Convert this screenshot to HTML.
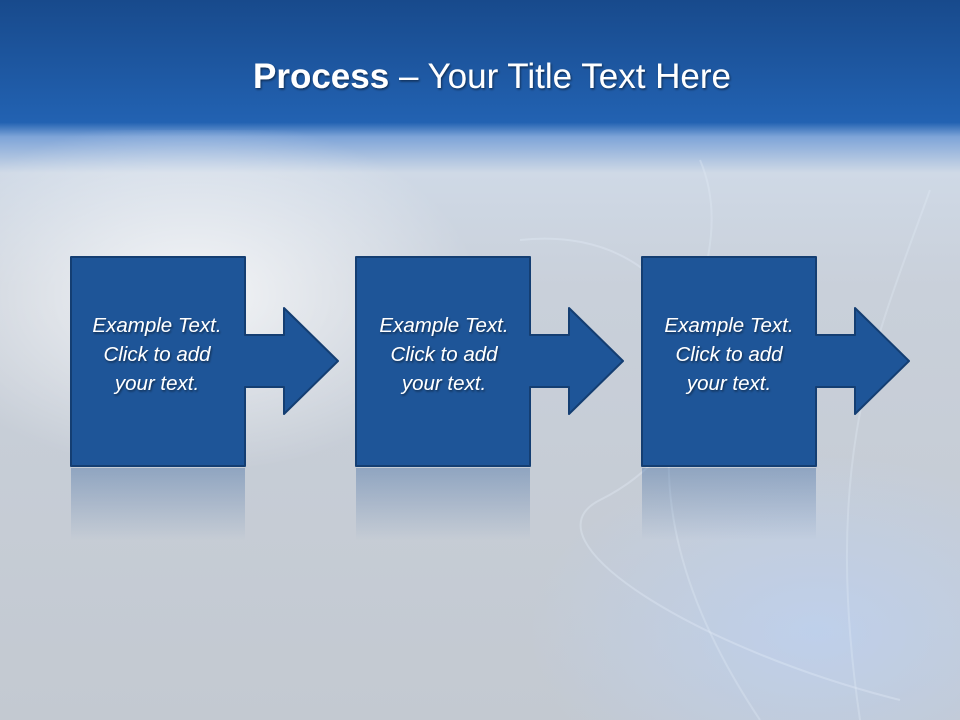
<!DOCTYPE html>
<html><head><meta charset="utf-8"><style>
html,body{margin:0;padding:0;width:960px;height:720px;overflow:hidden}
</style></head><body>
<svg width="960" height="720" viewBox="0 0 960 720" xmlns="http://www.w3.org/2000/svg">
<defs>
<linearGradient id="bg" x1="0" y1="0" x2="0" y2="1">
<stop offset="0" stop-color="#184a8c"/>
<stop offset="0.17" stop-color="#2262b2"/>
<stop offset="0.19" stop-color="#7ea4d8"/>
<stop offset="0.24" stop-color="#cfd9e6"/>
<stop offset="0.4" stop-color="#c9d0da"/>
<stop offset="1" stop-color="#c3c9d1"/>
</linearGradient>
<radialGradient id="glow" cx="0.2" cy="0.28" r="0.3">
<stop offset="0" stop-color="#ffffff" stop-opacity="0.8"/>
<stop offset="1" stop-color="#ffffff" stop-opacity="0"/>
</radialGradient>
<radialGradient id="glow2" cx="0.85" cy="0.85" r="0.3">
<stop offset="0" stop-color="#bcd2f5" stop-opacity="0.7"/>
<stop offset="1" stop-color="#bcd2f5" stop-opacity="0"/>
</radialGradient>
<linearGradient id="refl" x1="0" y1="0" x2="0" y2="1">
<stop offset="0" stop-color="#2a5a98" stop-opacity="0.35"/>
<stop offset="1" stop-color="#2a5a98" stop-opacity="0"/>
</linearGradient>
<filter id="ts" x="-10%" y="-20%" width="120%" height="140%">
<feDropShadow dx="1" dy="1.5" stdDeviation="1" flood-color="#000" flood-opacity="0.5"/>
</filter>
<g id="shape">
<path d="M71,257 H245 V335 H284 V308 L338,361 L284,414 V387 H245 V466 H71 Z" fill="#1e5598" stroke="#143e72" stroke-width="2" stroke-linejoin="round"/>
</g>
</defs>
<rect width="960" height="720" fill="url(#bg)"/>
<rect y="130" width="960" height="590" fill="url(#glow)"/>
<rect y="130" width="960" height="590" fill="url(#glow2)"/>
<path d="M520,240 C700,220 760,420 600,500 C520,540 700,650 900,700" stroke="#e6eefa" stroke-width="2" fill="none" opacity="0.35"/>
<path d="M700,160 C760,300 560,420 760,720" stroke="#e6eefa" stroke-width="2" fill="none" opacity="0.3"/>
<path d="M930,190 C880,330 820,450 860,720" stroke="#e6eefa" stroke-width="2" fill="none" opacity="0.3"/>
<text x="492" y="88" text-anchor="middle" font-family="Liberation Sans, sans-serif" font-size="35" fill="#fff" filter="url(#ts)"><tspan font-weight="bold">Process</tspan> – Your Title Text Here</text>
<g>
<rect x="71" y="468" width="174" height="72" fill="url(#refl)"/>
<rect x="356" y="468" width="174" height="72" fill="url(#refl)"/>
<rect x="642" y="468" width="174" height="72" fill="url(#refl)"/>
</g>
<use href="#shape"/>
<use href="#shape" x="285"/>
<use href="#shape" x="571"/>
<g font-family="Liberation Sans, sans-serif" font-style="italic" font-size="20.5" fill="#fff" text-anchor="middle" filter="url(#ts)">
<text x="157" y="332">Example Text.</text><text x="157" y="361">Click to add</text><text x="157" y="390">your text.</text>
<text x="444" y="332">Example Text.</text><text x="444" y="361">Click to add</text><text x="444" y="390">your text.</text>
<text x="729" y="332">Example Text.</text><text x="729" y="361">Click to add</text><text x="729" y="390">your text.</text>
</g>
</svg>
</body></html>
